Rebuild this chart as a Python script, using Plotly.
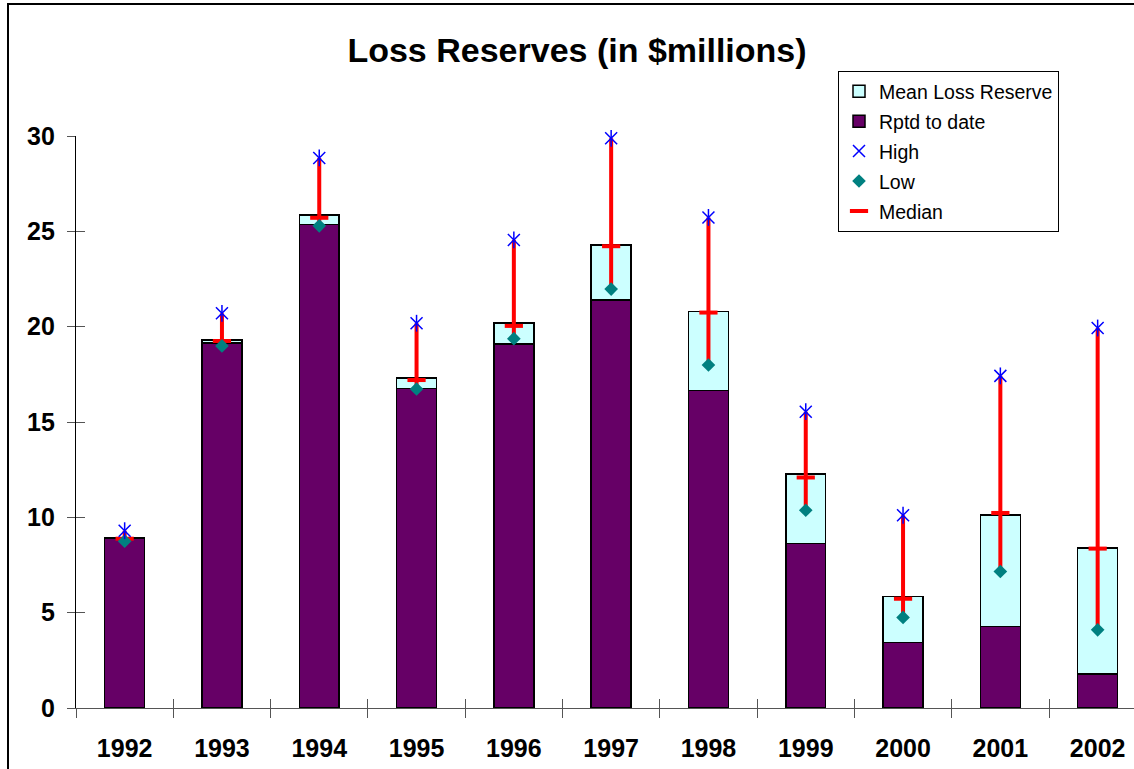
import plotly.graph_objects as go

years = ["1992", "1993", "1994", "1995", "1996", "1997", "1998", "1999", "2000", "2001", "2002"]
rptd_to_date = [8.90, 19.15, 25.35, 16.75, 19.10, 21.39, 16.66, 8.62, 3.43, 4.27, 1.79]
mean_reserve = [0.05, 0.15, 0.50, 0.57, 1.10, 2.89, 4.13, 3.64, 2.42, 5.84, 6.60]
high = [9.30, 20.70, 28.85, 20.18, 24.55, 29.88, 25.73, 15.54, 10.11, 17.42, 19.93]
low = [8.75, 18.99, 25.29, 16.73, 19.37, 21.97, 17.99, 10.37, 4.75, 7.16, 4.10]
median = [8.88, 19.25, 25.71, 17.20, 20.04, 24.22, 20.74, 12.09, 5.73, 10.23, 8.36]
y_ticks = [0, 5, 10, 15, 20, 25, 30]

W, H = 1134, 769
L, R, T, B = 76, 0, 136, 61
pw, ph = W - L - R, H - T - B
cat_px = 97.3
x_hi = -0.5 + pw / cat_px

def px_x(x):
    return (x - L) / pw

def px_y(y):
    return (H - B - y) / ph

fig = go.Figure()

fig.add_trace(go.Bar(
    x=years, y=rptd_to_date, name="Rptd to date", width=0.41,
    marker=dict(color="#660066", line=dict(color="black", width=1.5)),
    legendrank=2, legendgroup="g2",
))
fig.add_trace(go.Bar(
    x=years, y=mean_reserve, name="Mean Loss Reserve", width=0.41,
    marker=dict(color="#CCFFFF", line=dict(color="black", width=1.5)),
    legendrank=1, legendgroup="g1",
))

err_plus = [h - m for h, m in zip(high, median)]
err_minus = [m - l for m, l in zip(median, low)]
fig.add_trace(go.Scatter(
    x=years, y=median, name="Median", mode="markers", cliponaxis=False,
    marker=dict(symbol="line-ew-open", size=13, line=dict(color="#FF0000", width=4), color="#FF0000"),
    error_y=dict(type="data", symmetric=False, array=err_plus, arrayminus=err_minus,
                 color="#FF0000", thickness=4, width=0),
    legendrank=5, legendgroup="g5",
))
fig.add_trace(go.Scatter(
    x=years, y=low, name="Low", mode="markers", cliponaxis=False,
    marker=dict(symbol="diamond", size=10.5, color="#008080", line=dict(width=0)),
    legendrank=4, legendgroup="g4",
))
fig.add_trace(go.Scatter(
    x=years, y=high, name="High", mode="markers", cliponaxis=False,
    marker=dict(symbol="x-thin-open", size=12, line=dict(color="#0000FF", width=1.5), color="#0000FF"),
    legendrank=3, legendgroup="g3",
))
# vertical stroke of the Excel-style star, drawn on the overlay axes (same scale)
fig.add_trace(go.Scatter(
    x=years, y=high, name="High", mode="markers", showlegend=False, cliponaxis=False,
    xaxis="x2", yaxis="y2",
    marker=dict(symbol="line-ns-open", size=12, line=dict(color="#0000FF", width=1.5), color="#0000FF"),
    legendgroup="g3",
))

tick_col = "#555555"
fig.update_layout(
    width=W, height=H,
    margin=dict(l=L, r=R, t=T, b=B, autoexpand=False),
    paper_bgcolor="white", plot_bgcolor="white",
    barmode="stack",
    showlegend=True,
    font=dict(family="Liberation Sans, Arial, sans-serif", color="black"),
    title=dict(text="Loss Reserves (in $millions)", x=px_x(577), xref="paper", xanchor="center",
               y=1 - 50 / H, yref="container", yanchor="middle",
               font=dict(size=34, weight="bold", family="Liberation Sans, Arial, sans-serif")),
    xaxis=dict(type="category", categoryorder="array", categoryarray=years,
               range=[-0.5, x_hi], showline=True, linecolor=tick_col, linewidth=1.2,
               ticks="outside", ticklen=9, tickcolor=tick_col, tickwidth=1.2, tickson="boundaries",
               showgrid=False, zeroline=False,
               tickfont=dict(size=25, weight="bold"), ticklabelstandoff=18),
    xaxis2=dict(type="category", categoryorder="array", categoryarray=years, overlaying="x",
                range=[-0.5, x_hi], tickson="boundaries",
                ticks="inside", ticklen=9, tickcolor=tick_col, tickwidth=1.2, side="bottom",
                showticklabels=False, showgrid=False, zeroline=False, showline=False),
    yaxis=dict(range=[0, 30], tickvals=y_ticks, showline=True, linecolor="black", linewidth=1.2,
               ticks="outside", ticklen=8, tickcolor=tick_col, tickwidth=1.2,
               showgrid=False, zeroline=False,
               tickfont=dict(size=25, weight="bold"), ticklabelstandoff=7),
    yaxis2=dict(overlaying="y", range=[0, 30], tickvals=y_ticks, side="left",
                ticks="inside", ticklen=9, tickcolor=tick_col, tickwidth=1.2,
                showticklabels=False, showgrid=False, zeroline=False, showline=False),
    legend=dict(x=px_x(838), y=px_y(71), xanchor="left", yanchor="top",
                bgcolor="white", bordercolor="black", borderwidth=1,
                font=dict(size=19.5, family="Liberation Sans, Arial, sans-serif"),
                traceorder="grouped", tracegroupgap=1.6, itemwidth=30),
    shapes=[dict(type="rect", xref="paper", yref="paper",
                 x0=px_x(8), x1=1.05, y0=-0.3, y1=px_y(4),
                 line=dict(color="black", width=2), fillcolor="rgba(0,0,0,0)", layer="above")],
)

fig.write_html("out.html")
